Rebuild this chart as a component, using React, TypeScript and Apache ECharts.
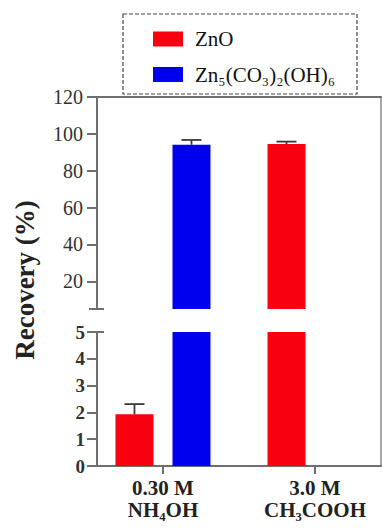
import React, { useEffect, useRef } from "react";
import * as echarts from "echarts";

// ---- data ----
const categories = ["0.30 M\nNH₄OH", "3.0 M\nCH₃COOH"];
const categoryIndex = [0, 1];
const seriesNames = ["ZnO", "Zn₅(CO₃)₂(OH)₆"];
const znoValues = [1.93, 94.5];
const znoErrors = [0.38, 1.3];
const carbValues = [94.1, 0];
const carbErrors = [2.6, 0];
const upperTicks = [20, 40, 60, 80, 100, 120];
const upperMin = 5;
const upperMax = 120;
const lowerMin = 0;
const lowerMax = 5;

// ---- layout / style ----
const W = 382;
const H = 528;
const LEFT = 97;
const RIGHT_X = 381;
const UP_TOP = 97;
const UP_BOTTOM = 309;
const LO_TOP = 332;
const LO_BOTTOM = 466;
const X_MIN = -0.434;
const X_MAX = 1.434;
const BAR_W = 38;
const BAR_GAP = 19;
const OFFSET = (BAR_W + BAR_GAP) / 2;
const AXIS_COLOR = "#6e6e6e";
const FONT = "'Liberation Serif', 'Times New Roman', serif";
const RED = "#f7000f";
const BLUE = "#0000ee";

export default function App() {
  const ref = useRef<HTMLDivElement>(null);

  useEffect(() => {
    if (!ref.current) return;
    const chart = echarts.init(ref.current, undefined, { renderer: "svg" });

    const pairs = (vals: number[], errs?: number[]) =>
      categoryIndex.map((c, i) => (errs ? [c, vals[i], errs[i]] : [c, vals[i]]));

    const errorSeries = (
      name: string,
      vals: number[],
      errs: number[],
      offset: number,
      gridIdx: number
    ) => ({
      type: "custom",
      name,
      xAxisIndex: gridIdx,
      yAxisIndex: gridIdx,
      silent: true,
      z: 5,
      data: pairs(vals, errs),
      renderItem: (params: any, api: any) => {
        const x = api.value(0);
        const y = api.value(1);
        const e = api.value(2);
        if (!(e > 0)) return null;
        if (gridIdx === 0 && y < upperMin) return null;
        if (gridIdx === 1 && y + e > lowerMax) return null;
        const base = api.coord([x, y]);
        const top = api.coord([x, y + e]);
        const px = base[0] + offset;
        const style = { stroke: "#3a3a3a", lineWidth: 1.8 };
        return {
          type: "group",
          children: [
            { type: "line", shape: { x1: px, y1: base[1], x2: px, y2: top[1] }, style },
            { type: "line", shape: { x1: px - 10, y1: top[1], x2: px + 10, y2: top[1] }, style },
          ],
        };
      },
    });

    const barSeries = (name: string, vals: number[], color: string, gridIdx: number) => ({
      type: "bar",
      name,
      xAxisIndex: gridIdx,
      yAxisIndex: gridIdx,
      barWidth: BAR_W,
      barGap: "50%",
      clip: true,
      data: pairs(vals),
      itemStyle: { color },
    });

    const tickStyle = { color: AXIS_COLOR, width: 2 };

    chart.setOption({
      animation: false,
      backgroundColor: "#fff",
      legend: {
        data: seriesNames,
        orient: "vertical",
        left: 148,
        top: 22,
        itemWidth: 30,
        itemHeight: 15,
        itemGap: 11.5,
        icon: "rect",
        selectedMode: false,
        textStyle: {
          fontFamily: FONT,
          fontSize: 21,
          lineHeight: 24,
          color: "#111",
          padding: [0, 0, 0, 7],
        },
      },
      grid: [
        { left: LEFT, right: W - RIGHT_X, top: UP_TOP, height: UP_BOTTOM - UP_TOP },
        { left: LEFT, right: W - RIGHT_X, top: LO_TOP, height: LO_BOTTOM - LO_TOP },
      ],
      xAxis: [
        {
          gridIndex: 0,
          type: "value",
          position: "top",
          min: X_MIN,
          max: X_MAX,
          axisLine: { show: true, onZero: false, lineStyle: { color: AXIS_COLOR, width: 2 } },
          axisTick: { show: false },
          axisLabel: { show: false },
          splitLine: { show: false },
        },
        {
          gridIndex: 1,
          type: "value",
          min: X_MIN,
          max: X_MAX,
          axisLine: { show: true, onZero: false, lineStyle: { color: AXIS_COLOR, width: 2 } },
          axisTick: { show: true, length: 8, customValues: categoryIndex, lineStyle: tickStyle },
          axisLabel: {
            customValues: categoryIndex,
            formatter: (v: number) => categories[Math.round(v)] ?? "",
            fontFamily: FONT,
            fontSize: 21,
            fontWeight: "bold",
            lineHeight: 22,
            color: "#222",
            margin: 11,
          },
          splitLine: { show: false },
        },
      ],
      yAxis: [
        {
          gridIndex: 0,
          type: "value",
          min: upperMin,
          max: upperMax,
          axisLine: { show: true, onZero: false, lineStyle: { color: AXIS_COLOR, width: 2 } },
          axisTick: { show: true, length: 10, customValues: upperTicks, lineStyle: tickStyle },
          axisLabel: {
            customValues: upperTicks,
            fontFamily: FONT,
            fontSize: 20,
            color: "#333",
            margin: 14,
          },
          splitLine: { show: false },
        },
        {
          gridIndex: 1,
          type: "value",
          min: lowerMin,
          max: lowerMax,
          interval: 1,
          axisLine: { show: true, onZero: false, lineStyle: { color: AXIS_COLOR, width: 2 } },
          axisTick: { show: true, length: 10, lineStyle: tickStyle },
          axisLabel: {
            fontFamily: FONT,
            fontSize: 19,
            fontWeight: "bold",
            color: "#333",
            margin: 12,
          },
          splitLine: { show: false },
        },
      ],
      series: [
        barSeries(seriesNames[0], znoValues, RED, 0),
        barSeries(seriesNames[1], carbValues, BLUE, 0),
        barSeries(seriesNames[0], znoValues, RED, 1),
        barSeries(seriesNames[1], carbValues, BLUE, 1),
        errorSeries("err-zno-up", znoValues, znoErrors, -OFFSET, 0),
        errorSeries("err-carb-up", carbValues, carbErrors, OFFSET, 0),
        errorSeries("err-zno-lo", znoValues, znoErrors, -OFFSET, 1),
        errorSeries("err-carb-lo", carbValues, carbErrors, OFFSET, 1),
      ],
      graphic: [
        {
          type: "rect",
          shape: { x: 123, y: 14, width: 234, height: 80 },
          style: { fill: "none", stroke: "#444", lineWidth: 1.2, lineDash: [4, 2] },
          silent: true,
        },
        {
          type: "line",
          shape: { x1: RIGHT_X, y1: UP_TOP, x2: RIGHT_X, y2: LO_BOTTOM },
          style: { stroke: "#8a8a8a", lineWidth: 1.5 },
          silent: true,
        },
        {
          type: "line",
          shape: { x1: LEFT - 8, y1: UP_BOTTOM, x2: LEFT + 7, y2: UP_BOTTOM },
          style: { stroke: AXIS_COLOR, lineWidth: 2 },
          silent: true,
        },
        {
          type: "line",
          shape: { x1: LEFT - 10, y1: LO_TOP, x2: LEFT + 7, y2: LO_TOP },
          style: { stroke: AXIS_COLOR, lineWidth: 2 },
          silent: true,
        },
        {
          type: "text",
          x: 25,
          y: 280,
          rotation: Math.PI / 2,
          style: {
            text: "Recovery (%)",
            fontFamily: FONT,
            fontSize: 27,
            fontWeight: "bold",
            fill: "#222",
            align: "center",
            verticalAlign: "middle",
          },
          silent: true,
        },
      ],
    });

    return () => chart.dispose();
  }, []);

  return (
    <div
      ref={ref}
      style={{ position: "fixed", left: 0, top: 0, width: W, height: H, background: "#fff" }}
    />
  );
}
